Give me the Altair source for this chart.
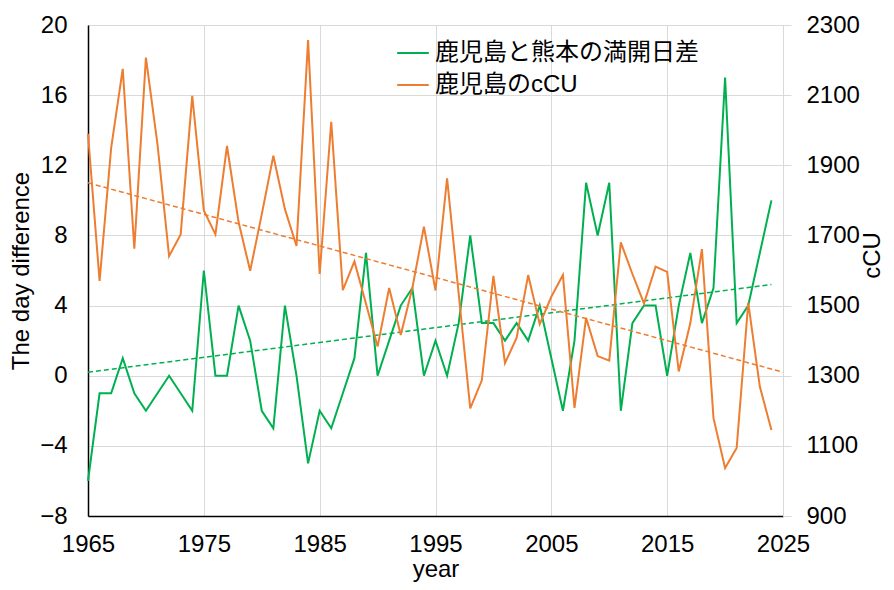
import altair as alt
import pandas as pd

years = list(range(1965, 2025))
day_diff = [-6, -1, -1, 1, -1, -2, -1, 0, -1, -2,
            6, 0, 0, 4, 2, -2, -3, 4, 0, -5,
            -2, -3, -1, 1, 7, 0, 2, 4, 5, 0,
            2, 0, 3, 8, 3, 3, 2, 3, 2, 4,
            1, -2, 2, 11, 8, 11, -2, 3, 4, 4,
            0, 4, 7, 3, 5, 17, 3, 4, 7, 10]
ccu = [1990, 1570, 1950, 2175, 1662, 2207, 1960, 1641, 1703, 2098,
       1771, 1703, 1955, 1738, 1599, 1760, 1927, 1775, 1670, 2257,
       1590, 2024, 1544, 1626, 1505, 1383, 1550, 1416, 1550, 1725,
       1543, 1863, 1534, 1207, 1287, 1585, 1336, 1408, 1587, 1447,
       1525, 1587, 1208, 1465, 1356, 1343, 1680, 1590, 1506, 1611,
       1596, 1312, 1450, 1661, 1179, 1037, 1094, 1508, 1269, 1145]

trend_diff_years = [1965, 2024]
trend_diff_values = [0.2, 5.2]
trend_ccu_years = [1965, 2025]
trend_ccu_values = [1850, 1310]

series = ["鹿児島と熊本の満開日差", "鹿児島のcCU"]
colors = ["#00B050", "#ED7D31"]
x_ticks = [1965, 1975, 1985, 1995, 2005, 2015, 2025]
left_ticks = [-8, -4, 0, 4, 8, 12, 16, 20]
right_ticks = [900, 1100, 1300, 1500, 1700, 1900, 2100, 2300]

FONT = "Liberation Sans, Arial, Noto Sans CJK JP"
GRID = "#d9d9d9"
LABEL_SIZE = 24
TITLE_SIZE = 24

df_diff = pd.DataFrame({"year": years, "value": day_diff, "series": series[0]})
df_ccu = pd.DataFrame({"year": years, "cCU": ccu, "series": series[1]})
df_tdiff = pd.DataFrame({"year": trend_diff_years, "value": trend_diff_values})
df_tccu = pd.DataFrame({"year": trend_ccu_years, "cCU": trend_ccu_values})

color_scale = alt.Scale(domain=series, range=colors)

x_enc = alt.X(
    "year:Q",
    scale=alt.Scale(domain=[1965, 2025], nice=False, zero=False),
    axis=alt.Axis(values=x_ticks, format="d", title="year", grid=True, labelFlush=False,
                  gridColor=GRID, gridWidth=1, domainColor="#000000", domainWidth=1.5,
                  tickSize=0, labelPadding=16, titlePadding=1,
                  labelFontSize=LABEL_SIZE, titleFontSize=TITLE_SIZE, titleFontWeight="normal",
                  labelFont=FONT, titleFont=FONT, labelColor="#000000", titleColor="#000000"),
)

y_left = alt.Y(
    "value:Q",
    scale=alt.Scale(domain=[-8, 20], nice=False, zero=False),
    axis=alt.Axis(values=left_ticks, title="The day difference", grid=True, labelFlush=False,
                  gridColor=GRID, gridWidth=1, domainColor="#000000", domainWidth=1.5,
                  tickSize=0, labelPadding=21, titlePadding=6,
                  labelFontSize=LABEL_SIZE, titleFontSize=TITLE_SIZE, titleFontWeight="normal",
                  labelFont=FONT, titleFont=FONT, labelColor="#000000", titleColor="#000000"),
)

y_right = alt.Y(
    "cCU:Q",
    scale=alt.Scale(domain=[900, 2300], nice=False, zero=False),
    axis=alt.Axis(values=right_ticks, format="d", title="cCU", orient="right", grid=False,
                  labelFlush=False,
                  domainColor=GRID, tickColor=GRID, tickSize=8, labelPadding=15,
                  titleAngle=270, titleX=89, titleY=230,
                  titleAlign="center", titleBaseline="middle",
                  labelFontSize=LABEL_SIZE, titleFontSize=TITLE_SIZE, titleFontWeight="normal",
                  labelFont=FONT, titleFont=FONT, labelColor="#000000", titleColor="#000000"),
)

legend = alt.Legend(
    title=None, orient="none", legendX=308, legendY=11,
    symbolType="stroke", symbolSize=1000, symbolStrokeWidth=2,
    labelFontSize=24, labelFont=FONT, labelColor="#000000",
    labelOffset=5, rowPadding=3, labelLimit=400,
)

green_line = alt.Chart(df_diff).mark_line(strokeWidth=2).encode(
    x=x_enc, y=y_left,
    color=alt.Color("series:N", scale=color_scale, legend=legend),
)
green_trend = alt.Chart(df_tdiff).mark_line(strokeWidth=1.5, strokeDash=[5, 3], color=colors[0]).encode(
    x=x_enc, y=y_left,
)
orange_line = alt.Chart(df_ccu).mark_line(strokeWidth=2).encode(
    x=x_enc, y=y_right,
    color=alt.Color("series:N", scale=color_scale, legend=legend),
)
orange_trend = alt.Chart(df_tccu).mark_line(strokeWidth=1.5, strokeDash=[5, 3], color=colors[1]).encode(
    x=x_enc, y=y_right,
)

left = alt.layer(green_line, green_trend)
right = alt.layer(orange_line, orange_trend)

chart = alt.layer(left, right).resolve_scale(y="independent").properties(
    width=695, height=491,
    autosize=alt.AutoSizeParams(type="none"),
    padding={"left": 80, "top": 17, "right": 103, "bottom": 66},
).configure_view(stroke="transparent")

chart.save("out.html", embed_options={"renderer": "svg", "actions": False})
